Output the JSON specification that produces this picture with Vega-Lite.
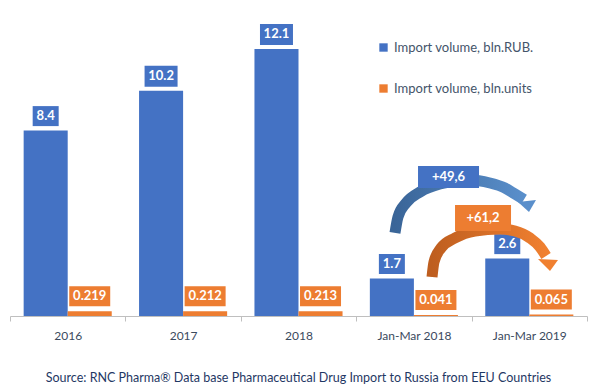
{
  "$schema": "https://vega.github.io/schema/vega-lite/v6.json",
  "width": 577,
  "height": 309,
  "autosize": "none",
  "padding": {"left": 10, "top": 7, "right": 7, "bottom": 72},
  "background": "white",
  "config": {"view": {"stroke": null}, "font": "Lato"},
  "title": {
    "text": "Source: RNC Pharma® Data base Pharmaceutical Drug Import to Russia from EEU Countries",
    "orient": "bottom",
    "anchor": "middle",
    "fontSize": 12.5,
    "fontWeight": "normal",
    "font": "Lato",
    "color": "#1F3864",
    "offset": 31
  },
  "datasets": {
    "bars": [
      {"cat": "2016", "series": "Import volume, bln.RUB.", "value": 8.4, "label": "8.4"},
      {"cat": "2016", "series": "Import volume, bln.units", "value": 0.219, "label": "0.219"},
      {"cat": "2017", "series": "Import volume, bln.RUB.", "value": 10.2, "label": "10.2"},
      {"cat": "2017", "series": "Import volume, bln.units", "value": 0.212, "label": "0.212"},
      {"cat": "2018", "series": "Import volume, bln.RUB.", "value": 12.1, "label": "12.1"},
      {"cat": "2018", "series": "Import volume, bln.units", "value": 0.213, "label": "0.213"},
      {"cat": "Jan-Mar 2018", "series": "Import volume, bln.RUB.", "value": 1.7, "label": "1.7"},
      {"cat": "Jan-Mar 2018", "series": "Import volume, bln.units", "value": 0.041, "label": "0.041"},
      {"cat": "Jan-Mar  2019", "series": "Import volume, bln.RUB.", "value": 2.6, "label": "2.6"},
      {"cat": "Jan-Mar  2019", "series": "Import volume, bln.units", "value": 0.065, "label": "0.065"}
    ],
    "arrowBlue": [
      {"x": 3.336, "y": 3.761},
      {"x": 3.362, "y": 4.486},
      {"x": 3.432, "y": 5.12},
      {"x": 3.553, "y": 5.618},
      {"x": 3.726, "y": 5.981},
      {"x": 3.986, "y": 6.162},
      {"x": 4.159, "y": 6.026},
      {"x": 4.289, "y": 5.8},
      {"x": 4.376, "y": 5.528},
      {"x": 4.454, "y": 5.279}
    ],
    "arrowOrange": [
      {"x": 3.657, "y": 1.767},
      {"x": 3.674, "y": 2.447},
      {"x": 3.735, "y": 3.081},
      {"x": 3.856, "y": 3.534},
      {"x": 4.029, "y": 3.851},
      {"x": 4.246, "y": 3.942},
      {"x": 4.376, "y": 3.851},
      {"x": 4.506, "y": 3.534},
      {"x": 4.593, "y": 3.126},
      {"x": 4.645, "y": 2.719}
    ],
    "heads": [
      {"arrow": "blue", "x": 4.486, "y": 5.043},
      {"arrow": "orange", "x": 4.668, "y": 2.388}
    ],
    "notes": [
      {"arrow": "blue", "x": 3.8, "y": 6.298, "label": "+49,6"},
      {"arrow": "orange", "x": 4.099, "y": 4.44, "label": "+61,2"}
    ]
  },
  "layer": [
    {
      "data": {"name": "bars"},
      "encoding": {
        "x": {
          "field": "cat",
          "type": "nominal",
          "sort": ["2016", "2017", "2018", "Jan-Mar 2018", "Jan-Mar  2019"],
          "scale": {"domain": ["2016", "2017", "2018", "Jan-Mar 2018", "Jan-Mar  2019"], "paddingInner": 0, "paddingOuter": 0},
          "axis": {
            "title": null,
            "labelAngle": 0,
            "labelFontSize": 12,
            "labelColor": "#3B4A5E",
            "labelFont": "Lato",
            "labelPadding": 9,
            "domainColor": "#BFBFBF",
            "tickColor": "#BFBFBF",
            "tickSize": 5,
            "tickBand": "extent",
            "grid": false
          }
        },
        "xOffset": {
          "field": "series",
          "type": "nominal",
          "sort": ["Import volume, bln.RUB.", "Import volume, bln.units"],
          "scale": {"domain": ["Import volume, bln.RUB.", "Import volume, bln.units"], "paddingInner": 0, "paddingOuter": 0.31}
        },
        "y": {"field": "value", "type": "quantitative", "scale": {"domain": [0, 14]}, "axis": null}
      },
      "layer": [
        {
          "mark": {"type": "bar"},
          "encoding": {
            "color": {
              "field": "series",
              "type": "nominal",
              "scale": {"domain": ["Import volume, bln.RUB.", "Import volume, bln.units"], "range": ["#4472C4", "#ED7D31"]},
              "legend": {
                "title": null,
                "orient": "none",
                "legendX": 367,
                "legendY": 34,
                "direction": "vertical",
                "symbolType": "square",
                "symbolSize": 70,
                "symbolStrokeWidth": 0,
                "labelFontSize": 13,
                "labelFont": "Lato",
                "labelColor": "#44546A",
                "labelOffset": 4,
                "rowPadding": 27,
                "padding": 0
              }
            }
          }
        },
        {
          "transform": [{"filter": "datum.series === 'Import volume, bln.RUB.' && length(datum.label) === 3"}],
          "mark": {"type": "point", "filled": true, "opacity": 1, "strokeWidth": 0, "size": 400, "color": "#4472C4", "shape": "M-1.3,-1L1.3,-1L1.3,1L-1.3,1Z", "yOffset": -14.5}
        },
        {
          "transform": [{"filter": "datum.series === 'Import volume, bln.RUB.' && length(datum.label) === 4"}],
          "mark": {"type": "point", "filled": true, "opacity": 1, "strokeWidth": 0, "size": 400, "color": "#4472C4", "shape": "M-1.65,-1.05L1.65,-1.05L1.65,1.05L-1.65,1.05Z", "yOffset": -14.5}
        },
        {
          "transform": [{"filter": "datum.series === 'Import volume, bln.units'"}],
          "mark": {"type": "point", "filled": true, "opacity": 1, "strokeWidth": 0, "size": 400, "color": "#ED7D31", "shape": "M-2.05,-1L2.05,-1L2.05,1L-2.05,1Z", "yOffset": -15}
        },
        {
          "transform": [{"filter": "datum.series === 'Import volume, bln.RUB.'"}],
          "mark": {"type": "text", "color": "white", "fontWeight": "bold", "fontSize": 13, "font": "Lato", "baseline": "middle", "dy": -14.5},
          "encoding": {"text": {"field": "label"}}
        },
        {
          "transform": [{"filter": "datum.series === 'Import volume, bln.units'"}],
          "mark": {"type": "text", "color": "white", "fontWeight": "bold", "fontSize": 13, "font": "Lato", "baseline": "middle", "dy": -15},
          "encoding": {"text": {"field": "label"}}
        }
      ]
    },
    {
      "layer": [
        {
          "data": {"name": "arrowBlue"},
          "mark": {
            "type": "line",
            "interpolate": "monotone",
            "strokeWidth": 11,
            "strokeCap": "butt",
            "color": {"gradient": "linear", "x1": 0, "y1": 0, "x2": 1, "y2": 0, "stops": [{"offset": 0, "color": "#3A6598"}, {"offset": 1, "color": "#5A8FCB"}]}
          },
          "encoding": {
            "x": {"field": "x", "type": "quantitative", "scale": {"domain": [0, 5]}, "axis": null},
            "y": {"field": "y", "type": "quantitative", "scale": {"domain": [0, 14]}, "axis": null}
          }
        },
        {
          "data": {"name": "arrowOrange"},
          "mark": {
            "type": "line",
            "interpolate": "monotone",
            "strokeWidth": 11,
            "strokeCap": "butt",
            "color": {"gradient": "linear", "x1": 0, "y1": 0, "x2": 1, "y2": 0, "stops": [{"offset": 0, "color": "#BE5E1F"}, {"offset": 1, "color": "#F08030"}]}
          },
          "encoding": {
            "x": {"field": "x", "type": "quantitative", "scale": {"domain": [0, 5]}, "axis": null},
            "y": {"field": "y", "type": "quantitative", "scale": {"domain": [0, 14]}, "axis": null}
          }
        },
        {
          "data": {"name": "heads"},
          "transform": [{"filter": "datum.arrow === 'blue'"}],
          "mark": {"type": "point", "filled": true, "opacity": 1, "strokeWidth": 0, "size": 400, "color": "#5A8FCB", "shape": "M-0.97,-0.27L0.83,-0.47L0.13,0.73Z"},
          "encoding": {
            "x": {"field": "x", "type": "quantitative", "scale": {"domain": [0, 5]}, "axis": null},
            "y": {"field": "y", "type": "quantitative", "scale": {"domain": [0, 14]}, "axis": null}
          }
        },
        {
          "data": {"name": "heads"},
          "transform": [{"filter": "datum.arrow === 'orange'"}],
          "mark": {"type": "point", "filled": true, "opacity": 1, "strokeWidth": 0, "size": 400, "color": "#F08030", "shape": "M-1.07,-0.43L0.93,-0.33L0.13,0.77Z"},
          "encoding": {
            "x": {"field": "x", "type": "quantitative", "scale": {"domain": [0, 5]}, "axis": null},
            "y": {"field": "y", "type": "quantitative", "scale": {"domain": [0, 14]}, "axis": null}
          }
        },
        {
          "data": {"name": "notes"},
          "transform": [{"filter": "datum.arrow === 'blue'"}],
          "mark": {"type": "point", "filled": true, "opacity": 1, "strokeWidth": 0, "size": 400, "color": "#4472C4", "shape": "M-3.05,-1.1L3.05,-1.1L3.05,1.1L-3.05,1.1Z"},
          "encoding": {
            "x": {"field": "x", "type": "quantitative", "scale": {"domain": [0, 5]}, "axis": null},
            "y": {"field": "y", "type": "quantitative", "scale": {"domain": [0, 14]}, "axis": null}
          }
        },
        {
          "data": {"name": "notes"},
          "transform": [{"filter": "datum.arrow === 'orange'"}],
          "mark": {"type": "point", "filled": true, "opacity": 1, "strokeWidth": 0, "size": 400, "color": "#ED7D31", "shape": "M-2.8,-1.3L2.8,-1.3L2.8,1.3L-2.8,1.3Z"},
          "encoding": {
            "x": {"field": "x", "type": "quantitative", "scale": {"domain": [0, 5]}, "axis": null},
            "y": {"field": "y", "type": "quantitative", "scale": {"domain": [0, 14]}, "axis": null}
          }
        },
        {
          "data": {"name": "notes"},
          "mark": {"type": "text", "color": "white", "fontWeight": "bold", "fontSize": 13, "font": "Lato", "baseline": "middle"},
          "encoding": {
            "x": {"field": "x", "type": "quantitative", "scale": {"domain": [0, 5]}, "axis": null},
            "y": {"field": "y", "type": "quantitative", "scale": {"domain": [0, 14]}, "axis": null},
            "text": {"field": "label"}
          }
        }
      ]
    }
  ],
  "resolve": {"scale": {"x": "independent"}}
}
